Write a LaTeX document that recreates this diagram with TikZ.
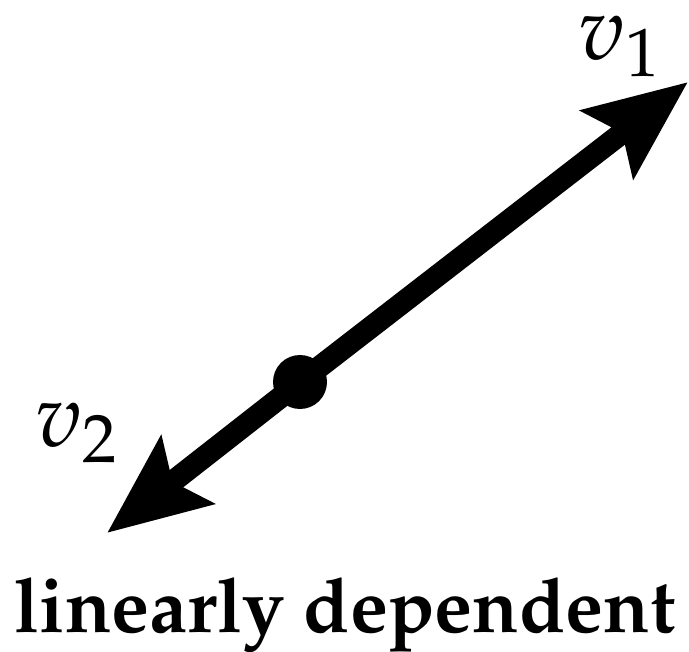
\documentclass[tikz,border=0pt]{standalone}
\usepackage[T1]{fontenc}
\usepackage{mathpazo}
\usetikzlibrary{arrows.meta}
\tikzset{
  vecarrow/.style={line width=22pt, -{Stealth[length=101pt, width=84pt, inset=18pt]}},
  veclabel/.style={inner sep=0pt, anchor=base west, text height=48pt, text depth=16pt, font=\fontsize{90}{100}\selectfont},
  caption/.style={inner sep=0pt, anchor=base, font=\fontsize{76}{86}\selectfont\bfseries}
}
\begin{document}
\begin{tikzpicture}[x=1pt,y=-1pt]
\useasboundingbox (0,0) rectangle (689,652);
\coordinate (o) at (300,382);
\coordinate (t1) at (688,82);
\coordinate (t2) at (107,533);
\draw[vecarrow] (o) -- (t1);
\draw[vecarrow] (o) -- (t2);
\fill (o) circle (27pt);
\node[veclabel] (l1) at (578,60) {$v_1$};
\node[veclabel] (l2) at (35,447) {$v_2$};
\node[caption] (cap) at (345,632) {linearly dependent};
\end{tikzpicture}
\end{document}
